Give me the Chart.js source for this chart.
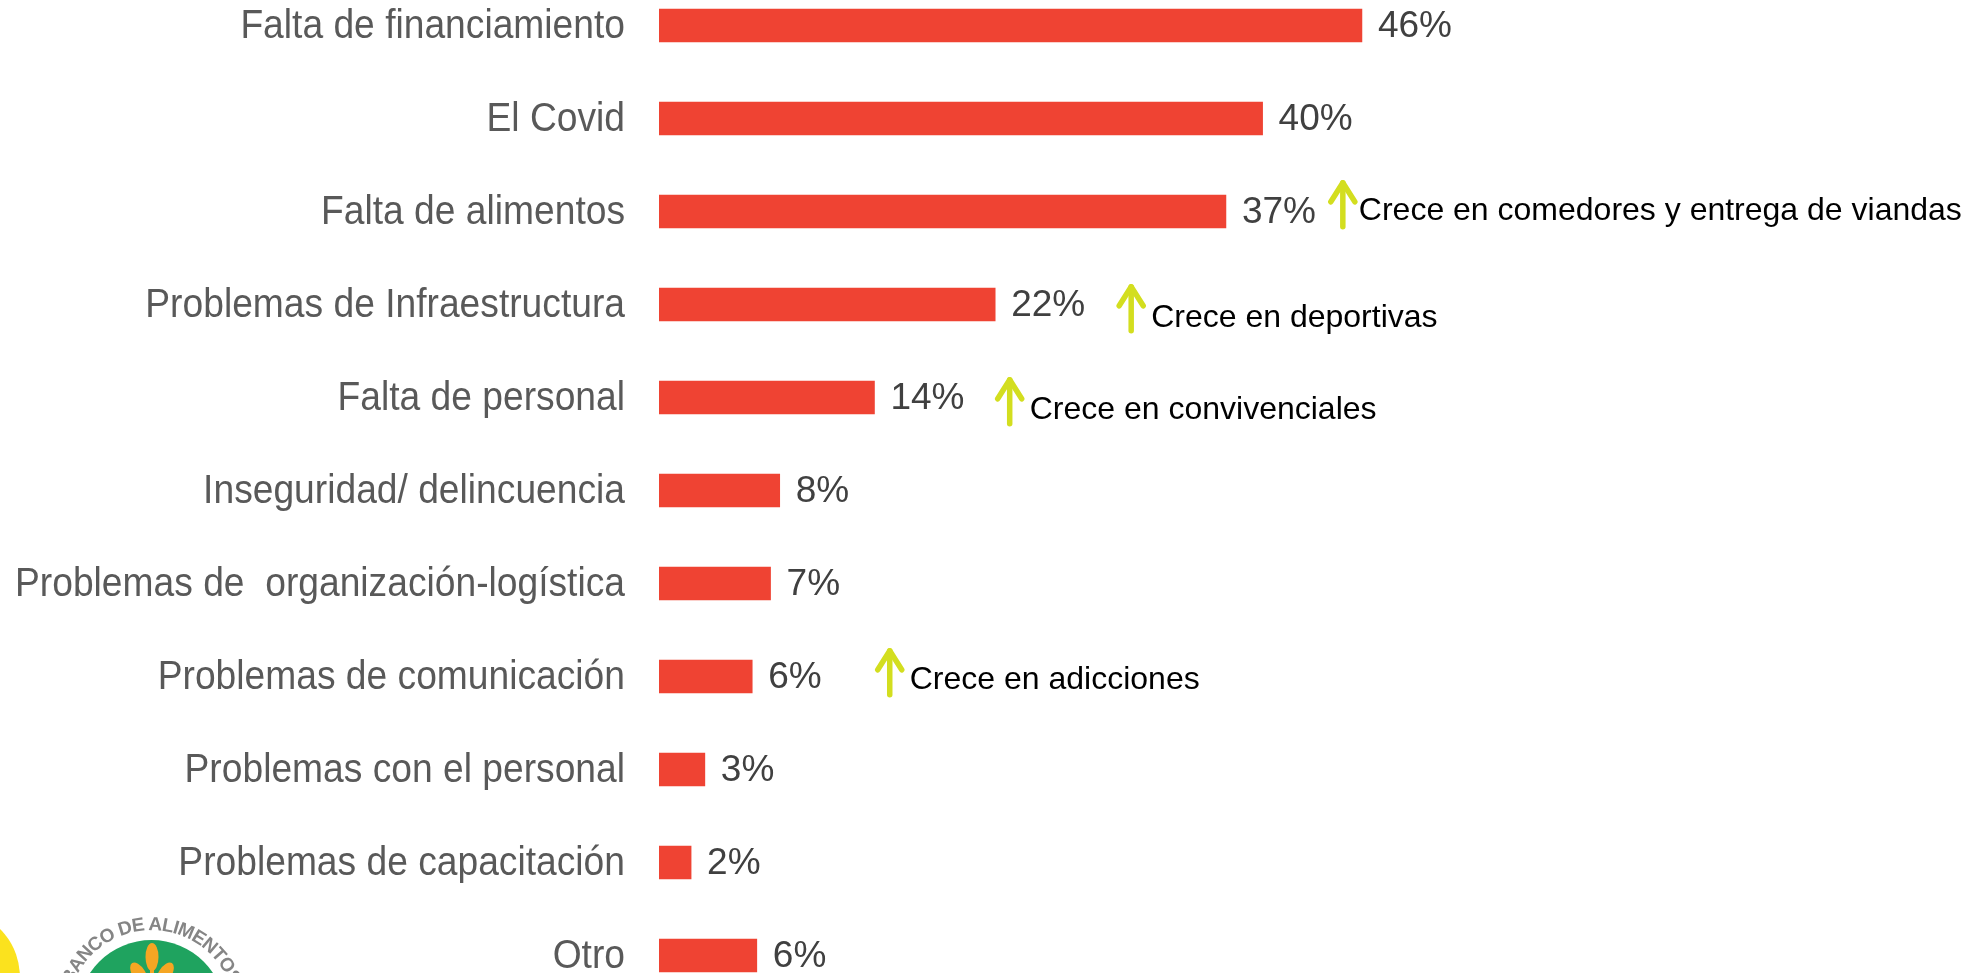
<!DOCTYPE html>
<html>
<head>
<meta charset="utf-8">
<script src="https://cdn.jsdelivr.net/npm/chart.js@4.4.1/dist/chart.umd.min.js"></script>
<style>
  html, body { margin: 0; padding: 0; background: #ffffff; overflow: hidden; width: 1964px; height: 973px; }
  #wrap { position: absolute; left: 0; top: -21px; width: 1964px; height: 1023px; }
  #logo { position: absolute; left: 0; top: 873px; width: 260px; height: 100px; }
</style>
</head>
<body>
<div id="wrap"><canvas id="c" width="1964" height="1023"></canvas></div>
<svg id="logo" width="260" height="100" viewBox="0 873 260 100" xmlns="http://www.w3.org/2000/svg">
  <ellipse cx="-32" cy="978" rx="52" ry="62" fill="#fbe21e"/>
  <ellipse cx="-30" cy="1005" rx="44" ry="42" fill="#f29b2c"/>
  <circle cx="151.5" cy="1014" r="74" fill="#1fa35f"/>
  <g fill="#f5a623">
    <ellipse cx="152" cy="957" rx="6.5" ry="14"/>
    <ellipse cx="139" cy="974" rx="6.5" ry="13" transform="rotate(-32 139 974)"/>
    <ellipse cx="165" cy="974" rx="6.5" ry="13" transform="rotate(32 165 974)"/>
    <rect x="150" y="965" width="4" height="20"/>
  </g>
  <defs>
    <path id="arc" d="M 70.4 992.3 A 84 84 0 0 1 232.6 992.3"/>
  </defs>
  <text font-family="Liberation Sans, Arial, sans-serif" font-weight="bold" font-size="19" fill="#858585">
    <textPath href="#arc" startOffset="50%" text-anchor="middle" textLength="205" lengthAdjust="spacing">BANCO DE ALIMENTOS</textPath>
  </text>
</svg>
<script>
// ---- data ----
const categories = [
  'Falta de financiamiento',
  'El Covid',
  'Falta de alimentos',
  'Problemas de Infraestructura',
  'Falta de personal',
  'Inseguridad/ delincuencia',
  'Problemas de  organización-logística',
  'Problemas de comunicación',
  'Problemas con el personal',
  'Problemas de capacitación',
  'Otro'
];
const values = [46, 39.5, 37.1, 22, 14.1, 7.9, 7.3, 6.1, 3.0, 2.1, 6.4];
const valueLabels = ['46%', '40%', '37%', '22%', '14%', '8%', '7%', '6%', '3%', '2%', '6%'];

const noteTexts = [
  'Crece en comedores y entrega de viandas',
  'Crece en deportivas',
  'Crece en convivenciales',
  'Crece en adicciones'
];
const noteCategory = [2, 3, 4, 7];
const noteAt = [44.75, 30.9, 22.95, 15.1];

// ---- layout for notes (positions relative to the bar centre) ----
const noteTipDy = [-30.7, -19.7, -19.7, -27.7];
const noteTextDy = [8.3, 22, 21.3, 12.6];
const noteTextDx = [16, 20, 20, 20];

const FONT = "'Liberation Sans', Arial, sans-serif";

// category labels drawn slightly condensed, right-aligned against the axis
const categoryLabelPlugin = {
  id: 'categoryLabels',
  afterDraw(chart) {
    const ctx = chart.ctx;
    const ys = chart.scales.y;
    const right = chart.chartArea.left - 34;
    ctx.save();
    ctx.font = '40px ' + FONT;
    ctx.fillStyle = '#595959';
    ctx.textAlign = 'right';
    ctx.textBaseline = 'middle';
    chart.data.labels.forEach((lab, i) => {
      const y = ys.getPixelForValue(i);
      ctx.save();
      ctx.translate(right, y + 1);
      ctx.scale(0.93, 1);
      ctx.fillText(lab, 0, 0);
      ctx.restore();
    });
    ctx.restore();
  }
};

const valueLabelPlugin = {
  id: 'valueLabels',
  afterDatasetsDraw(chart) {
    const ctx = chart.ctx;
    const meta = chart.getDatasetMeta(0);
    ctx.save();
    ctx.font = '37px ' + FONT;
    ctx.fillStyle = '#404040';
    ctx.textAlign = 'left';
    ctx.textBaseline = 'middle';
    meta.data.forEach((bar, i) => {
      ctx.fillText(valueLabels[i], bar.x + 16, bar.y + 1);
    });
    ctx.restore();
  }
};

const notesPlugin = {
  id: 'notes',
  afterDraw(chart) {
    const ctx = chart.ctx;
    const xs = chart.scales.x, ys = chart.scales.y;
    ctx.save();
    noteTexts.forEach((t, k) => {
      const px = xs.getPixelForValue(noteAt[k]);
      const cy = ys.getPixelForValue(noteCategory[k]);
      const tip = cy + noteTipDy[k];
      const bottom = tip + 46;
      ctx.strokeStyle = '#d3de1f';
      ctx.lineWidth = 5.5;
      ctx.lineCap = 'round';
      ctx.lineJoin = 'round';
      ctx.beginPath();
      ctx.moveTo(px, bottom);
      ctx.lineTo(px, tip + 2);
      ctx.stroke();
      ctx.beginPath();
      ctx.moveTo(px - 12, tip + 21);
      ctx.lineTo(px, tip + 2);
      ctx.lineTo(px + 12, tip + 21);
      ctx.stroke();
      ctx.fillStyle = '#000000';
      ctx.font = '32px ' + FONT;
      ctx.textAlign = 'left';
      ctx.textBaseline = 'alphabetic';
      ctx.fillText(t, px + noteTextDx[k], cy + noteTextDy[k]);
    });
    ctx.restore();
  }
};

new Chart(document.getElementById('c'), {
  type: 'bar',
  data: {
    labels: categories,
    datasets: [{
      data: values,
      backgroundColor: '#ef4333',
      borderWidth: 0,
      barThickness: 33
    }]
  },
  options: {
    indexAxis: 'y',
    responsive: false,
    animation: false,
    layout: { padding: 0 },
    plugins: { legend: { display: false }, tooltip: { enabled: false } },
    scales: {
      x: {
        display: false,
        min: 0,
        max: 85.4
      },
      y: {
        grid: { display: false, drawTicks: false },
        border: { display: false },
        afterFit(scale) {
          scale.width = 659;
          scale.paddingTop = 0;
          scale.paddingBottom = 0;
        },
        ticks: { display: false }
      }
    }
  },
  plugins: [categoryLabelPlugin, valueLabelPlugin, notesPlugin]
});
</script>
</body>
</html>
